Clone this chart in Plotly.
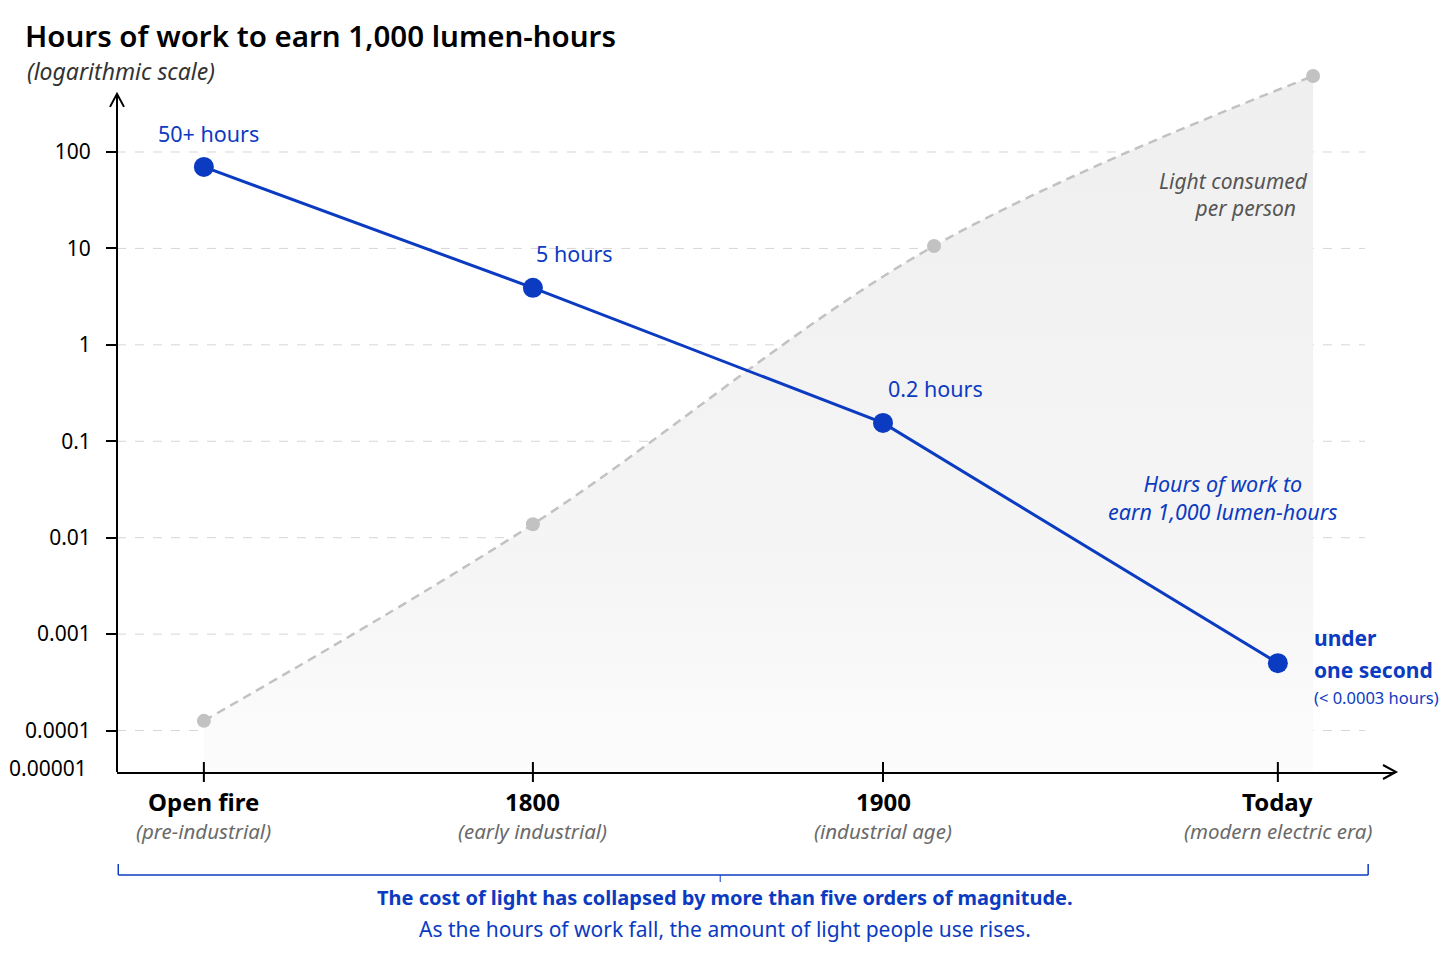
import numpy as np
import plotly.graph_objects as go

FONT = "Noto Sans"
BLUE = "#0b3bc1"
GREY_LINE = "#c2c2c2"
GRID = "#d6d6d6"

# --------------------------------------------------
# DATA
# --------------------------------------------------

eras = ["Open fire", "1800", "1900", "Today"]
era_notes = ["(pre-industrial)", "(early industrial)", "(industrial age)", "(modern electric era)"]
era_pos = [0, 1.0, 2.064, 3.264]

hours_of_work = [70, 3.9, 0.155, 0.0005]
hour_labels = ["50+ hours", "5 hours", "0.2 hours"]
hour_label_shift = [(5, 33), (42, 34), (52, 34)]

light_pos = [0, 1.0, 2.219, 3.371]
light_per_person = [1.26e-4, 0.0138, 10.6, 614]

y_ticks = [100, 10, 1, 0.1, 0.01, 0.001, 0.0001]
y_tick_text = ["100", "10", "1", "0.1", "0.01", "0.001", "0.0001"]
y_floor = 1e-5

# the page puts the plot div 8px in from the top-left corner
# so margins are shifted back by that much
AXIS_TOP = 0.951   # paper y where the y-axis arrow ends

# --------------------------------------------------
# FIGURE
# --------------------------------------------------

fig = go.Figure()

# invisible floor so the light area can fill down to the axis
fig.add_trace(go.Scatter(
    x=light_pos, y=[y_floor] * len(light_pos),
    mode="lines", line=dict(width=0), hoverinfo="skip", showlegend=False
))

fig.add_trace(go.Scatter(
    x=light_pos, y=light_per_person,
    mode="lines+markers",
    line=dict(color=GREY_LINE, width=2.5, dash="9px,6px", shape="spline", smoothing=1),
    marker=dict(color=GREY_LINE, size=14),
    fill="tonexty",
    fillgradient=dict(type="vertical", colorscale=[[0, "#fefefe"], [0.35, "#f5f5f5"], [1, "#efefef"]]),
    showlegend=False, cliponaxis=False
))

fig.add_trace(go.Scatter(
    x=era_pos, y=hours_of_work,
    mode="lines+markers",
    line=dict(color=BLUE, width=3),
    marker=dict(color=BLUE, size=20),
    showlegend=False, cliponaxis=False
))

# --------------------------------------------------
# AXES
# --------------------------------------------------

fig.update_xaxes(
    range=[-0.264, 3.62],
    showgrid=False, zeroline=False,
    showline=True, linecolor="black", linewidth=2,
    tickmode="array", tickvals=era_pos, showticklabels=False,
    ticks=""
)

fig.update_yaxes(
    type="log", range=[-4.43, 2.954],
    showgrid=False, zeroline=False, showline=False,
    tickmode="array", tickvals=y_ticks, ticktext=y_tick_text,
    ticks="outside", ticklen=10, tickwidth=1.5, tickcolor="black",
    tickfont=dict(family=FONT, size=21, color="black"),
    ticklabelstandoff=11
)

shapes = []
for v in y_ticks:
    shapes.append(dict(
        type="line", xref="paper", yref="y", x0=0, x1=0.9765, y0=v, y1=v,
        line=dict(color=GRID, width=1, dash="dash"), layer="below"
    ))

# x ticks that cross the axis line
for x in era_pos:
    shapes.append(dict(
        type="line", xref="x", yref="paper", ysizemode="pixel", yanchor=0,
        x0=x, x1=x, y0=-10, y1=10, line=dict(color="black", width=2)
    ))

# y axis line (stops below the top so the light curve can rise past it)
shapes.append(dict(
    type="line", xref="paper", yref="paper", x0=0, x1=0, y0=0, y1=AXIS_TOP,
    line=dict(color="black", width=2)
))

# arrow heads on the axes
shapes.append(dict(
    type="path", xref="paper", yref="paper", xsizemode="pixel", ysizemode="pixel",
    xanchor=0, yanchor=AXIS_TOP, path="M -7,-12 L 0,1 L 7,-12",
    line=dict(color="black", width=2)
))
shapes.append(dict(
    type="path", xref="paper", yref="paper", xsizemode="pixel", ysizemode="pixel",
    xanchor=1, yanchor=0, path="M -12,7 L 1,0 L -12,-7",
    line=dict(color="black", width=2)
))

# bracket under the x axis
shapes += [
    dict(type="line", xref="paper", yref="paper", x0=0.001, x1=0.979, y0=-0.1447, y1=-0.1447,
         line=dict(color=BLUE, width=1.5)),
    dict(type="line", xref="paper", yref="paper", x0=0.001, x1=0.001, y0=-0.1447, y1=-0.1292,
         line=dict(color=BLUE, width=1.5)),
    dict(type="line", xref="paper", yref="paper", x0=0.979, x1=0.979, y0=-0.1447, y1=-0.1292,
         line=dict(color=BLUE, width=1.5)),
    dict(type="line", xref="paper", yref="paper", x0=0.472, x1=0.472, y0=-0.1447, y1=-0.1545,
         line=dict(color=BLUE, width=1)),
]

# --------------------------------------------------
# ANNOTATIONS
# --------------------------------------------------

annotations = []

for x, y, txt, (dx, dy) in zip(era_pos, hours_of_work, hour_labels, hour_label_shift):
    annotations.append(dict(
        x=x, y=np.log10(y), text=txt, showarrow=False, xshift=dx, yshift=dy,
        xanchor="center", yanchor="middle",
        font=dict(family=FONT, size=21.5, color=BLUE)
    ))

today_x, today_y = era_pos[-1], np.log10(hours_of_work[-1])
for txt, dy, size, weight in [("under", 25, 21, 700), ("one second", -7, 21, 700),
                              ("(< 0.0003 hours)", -34, 16.5, 400)]:
    annotations.append(dict(
        x=today_x, y=today_y, text=txt, showarrow=False, xanchor="left", yanchor="middle",
        xshift=34, yshift=dy,
        font=dict(family=FONT, size=size, color=BLUE, weight=weight)
    ))

for x, name, note in zip(era_pos, eras, era_notes):
    annotations.append(dict(
        x=x, y=-0.0421, yref="paper", text=name, showarrow=False,
        xanchor="center", yanchor="middle",
        font=dict(family=FONT, size=24, color="black", weight=700)
    ))
    annotations.append(dict(
        x=x, y=-0.0829, yref="paper", text=f"<i>{note}</i>", showarrow=False,
        xanchor="center", yanchor="middle",
        font=dict(family=FONT, size=20.5, color="#6a6a6a")
    ))

annotations += [
    dict(x=3.363, y=np.log10(36), xanchor="right", yanchor="middle", align="right",
         text="<i>Light consumed<br>per person  </i>", showarrow=False,
         font=dict(family=FONT, size=21, color="#555555")),
    dict(x=3.097, y=np.log10(0.026), xanchor="center", yanchor="middle",
         text="<i>Hours of work to<br>earn 1,000 lumen-hours</i>",
         showarrow=False, font=dict(family=FONT, size=21.5, color=BLUE)),
    dict(x=-0.022, xref="paper", y=0.0056, yref="paper", xanchor="right", yanchor="middle",
         text="0.00001", showarrow=False, font=dict(family=FONT, size=21, color="black")),
    dict(x=-0.072, xref="paper", y=0.9846, yref="paper", xanchor="left", yanchor="middle",
         text="<i>(logarithmic scale)</i>", showarrow=False,
         font=dict(family=FONT, size=23, color="#333333")),
    dict(x=0.476, xref="paper", y=-0.1756, yref="paper", xanchor="center", yanchor="middle",
         text="The cost of light has collapsed by more than five orders of magnitude.",
         showarrow=False, font=dict(family=FONT, size=20, color=BLUE, weight=700)),
    dict(x=0.476, xref="paper", y=-0.2205, yref="paper", xanchor="center", yanchor="middle",
         text="As the hours of work fall, the amount of light people use rises.",
         showarrow=False, font=dict(family=FONT, size=21, color=BLUE)),
]

fig.update_layout(
    width=1456, height=971,
    paper_bgcolor="white", plot_bgcolor="white",
    margin=dict(l=109, r=69, t=52, b=207),
    title=dict(
        text="Hours of work to earn 1,000 lumen-hours",
        x=0.0117, xanchor="left", xref="container",
        y=0.970, yanchor="middle", yref="container",
        font=dict(family=FONT, size=29.5, color="black", weight=600)
    ),
    shapes=shapes,
    annotations=annotations,
    hovermode=False
)

fig.write_html("out.html")
